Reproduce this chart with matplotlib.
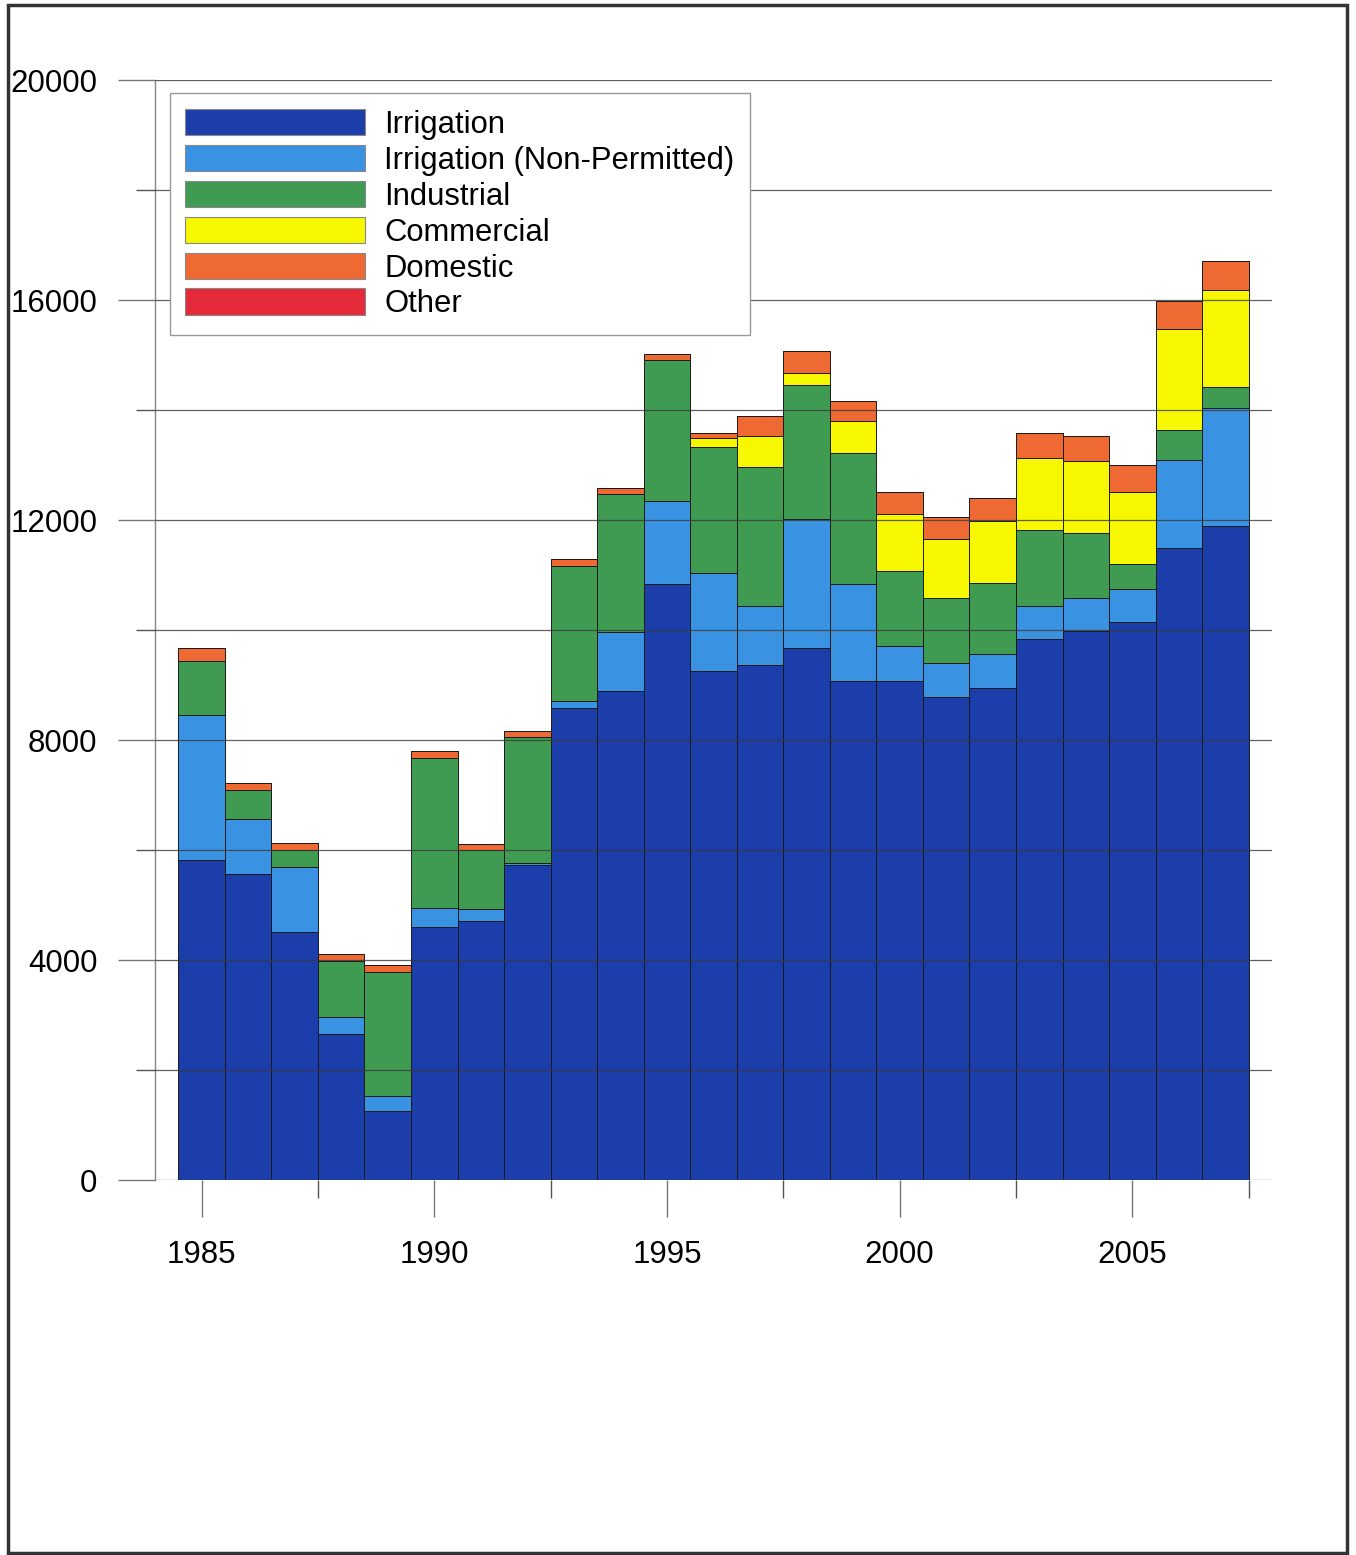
import matplotlib
matplotlib.use("Agg")
import matplotlib.pyplot as plt
from matplotlib.patches import Rectangle
import numpy as np

plt.rcParams['font.family'] = ['Liberation Sans', 'DejaVu Sans']

years = list(range(1985, 2008))
irrigation = [5810, 5560, 4510, 2660, 1260, 4600, 4710, 5720, 8575, 8900, 10830, 9260,
              9360, 9670, 9080, 9080, 8775, 8950, 9840, 9990, 10140, 11500, 11900]
non_permitted = [2650, 1000, 1185, 307, 270, 340, 215, 45, 135, 1070, 1510, 1770,
                 1080, 2355, 1750, 630, 620, 610, 605, 600, 605, 1600, 2140]
industrial = [970, 530, 313, 1011, 2245, 2725, 1075, 2285, 2460, 2505, 2570, 2290,
              2520, 2425, 2380, 1360, 1195, 1300, 1370, 1180, 455, 535, 380]
commercial = [0, 0, 0, 0, 0, 0, 0, 0, 0, 0, 0, 180,
              560, 230, 590, 1040, 1060, 1120, 1305, 1305, 1315, 1835, 1770]
domestic = [240, 125, 126, 125, 132, 140, 110, 105, 115, 110, 110, 90,
            375, 390, 370, 395, 405, 425, 455, 455, 480, 505, 520]
other = [0] * 23

series_names = ["Irrigation", "Irrigation (Non-Permitted)", "Industrial",
                "Commercial", "Domestic", "Other"]
series_values = [irrigation, non_permitted, industrial, commercial, domestic, other]
colors = ["#1c3eab", "#3a92e3", "#3f9a52", "#f7f700", "#ef6a33", "#e52a3a"]

y_ticks = [0, 4000, 8000, 12000, 16000, 20000]
y_minor = [2000, 6000, 10000, 14000, 18000]
x_ticks = [1985, 1990, 1995, 2000, 2005]
x_minor = [1987.5, 1992.5, 1997.5, 2002.5, 2007.5]

fig = plt.figure(figsize=(13.56, 15.55), dpi=100)
ax = fig.add_axes([155/1356, 1 - 1180/1555, 1117/1356, 1100/1555])

bottom = np.zeros(len(years))
handles = []
for name, vals, c in zip(series_names, series_values, colors):
    vals = np.array(vals, dtype=float)
    b = ax.bar(years, vals, width=1.0, bottom=bottom, color=c,
               edgecolor="#1a1a1a", linewidth=0.7, label=name)
    handles.append(b)
    bottom += vals

ax.set_xlim(1984.0, 2008.0)
ax.set_ylim(0, 20000)

ax.set_yticks(y_ticks)
ax.set_yticks(y_minor, minor=True)
ax.set_xticks(x_ticks)
ax.set_xticks(x_minor, minor=True)
ax.tick_params(axis='y', which='major', length=26.5, width=1, color='#777777',
               labelsize=22.5, pad=15)
ax.tick_params(axis='y', which='minor', length=14, width=1, color='#555555')
ax.tick_params(axis='x', which='major', length=26.5, width=1, color='#777777',
               labelsize=22.5, pad=17)
ax.tick_params(axis='x', which='minor', length=13, width=1, color='#555555')

ax.set_axisbelow(False)
ax.grid(True, axis='y', which='both', color='#3a3a3a', linewidth=0.9, alpha=0.8)

for s in ['top', 'right', 'bottom']:
    ax.spines[s].set_visible(False)
ax.spines['left'].set_color('#888888')
ax.spines['left'].set_linewidth(1)

leg = ax.legend(handles=handles, labels=series_names, loc='upper left',
                bbox_to_anchor=(0.0134, 0.988), borderaxespad=0,
                fontsize=22.3, handlelength=5.8, handleheight=0.95,
                handletextpad=0.62, labelspacing=0.16, borderpad=0.5,
                fancybox=False, framealpha=1, edgecolor='#999999')
leg.get_frame().set_linewidth(1)
for p in leg.get_patches():
    p.set_edgecolor('#888888')
    p.set_linewidth(0.8)

# page border
fig.patches.append(Rectangle((8/1356, 1 - 1553/1555), 1339/1356, 1548/1555,
                             transform=fig.transFigure, fill=False,
                             edgecolor='#333333', linewidth=2.5))

fig.savefig("out.png", dpi=100)
